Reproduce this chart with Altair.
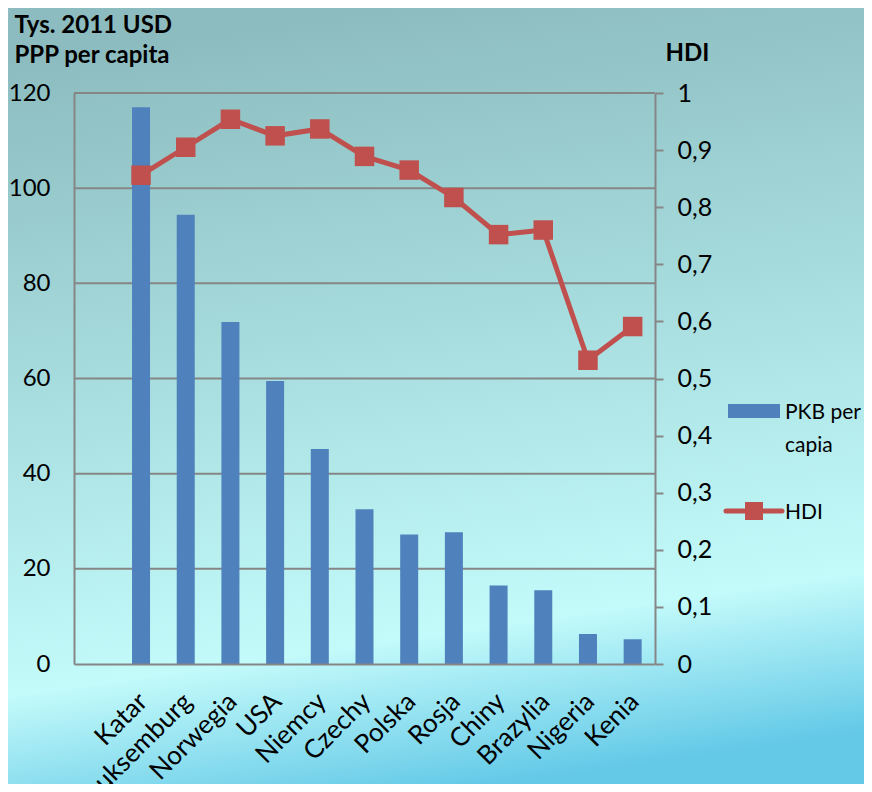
import altair as alt
import pandas as pd

# ---- data ----
countries = ["Katar", "Luksemburg", "Norwegia", "USA", "Niemcy", "Czechy",
             "Polska", "Rosja", "Chiny", "Brazylia", "Nigeria", "Kenia"]
pkb = [117.0, 94.4, 71.9, 59.5, 45.2, 32.5, 27.2, 27.7, 16.5, 15.5, 6.3, 5.2]
hdi = [0.856, 0.905, 0.954, 0.925, 0.937, 0.889, 0.865, 0.817, 0.752, 0.760, 0.532, 0.591]
pkb_ticks = [0, 20, 40, 60, 80, 100, 120]
hdi_ticks = [0, 0.1, 0.2, 0.3, 0.4, 0.5, 0.6, 0.7, 0.8, 0.9, 1.0]
title_left = ["Tys. 2011 USD", "PPP per capita"]
title_right = "HDI"
legend_bar_label = ["PKB per", "capia"]
legend_line_label = "HDI"

FONT = "Lato"
W, H = 581, 571
PAD = {"left": 66, "top": 85, "right": 209, "bottom": 120}
GRAY = "#868686"
BLUE = "#4f81bd"
RED = "#c0504d"

df = pd.DataFrame({"kraj": countries, "pkb": pkb, "hdi": hdi})
grid_df = pd.DataFrame({"g": pkb_ticks[1:]})
one = pd.DataFrame({"a": [0]})

x_scale = alt.Scale(domain=[" "] + countries, paddingInner=0, paddingOuter=0)
x_axis = alt.Axis(
    title=None, labelAngle=-45, labelAlign="right", labelBaseline="top",
    labelPadding=24, labelOffset=-7, ticks=False, domainColor=GRAY, domainWidth=2,
    labelFontSize=26, labelLimit=300, zindex=1)
left_scale = alt.Scale(domain=[0, 120], nice=False)
left_axis = alt.Axis(
    values=pkb_ticks, ticks=False, grid=False, domainColor=GRAY, domainWidth=2,
    labelPadding=24, labelFontSize=24,
    title=title_left, titleAngle=0, titleAlign="left", titleBaseline="alphabetic",
    titleX=-60, titleY=-61, titleLineHeight=30, titleFontSize=24,
    titleFontWeight="bold", zindex=1)

gradient = alt.LinearGradient(
    gradient="linear",
    stops=[
        alt.GradientStop(color="#8cbcbf", offset=0),
        alt.GradientStop(color="#a9dfe0", offset=0.45),
        alt.GradientStop(color="#c3fafa", offset=0.8),
        alt.GradientStop(color="#63c9e7", offset=1),
    ],
    x1=0.42, y1=0, x2=0.58, y2=1,
)

bg = alt.Chart(one).mark_rect(fill=gradient).encode(
    x=alt.value(-PAD["left"]), x2=alt.value(W + PAD["right"]),
    y=alt.value(-PAD["top"]), y2=alt.value(H + PAD["bottom"]),
)

grid = alt.Chart(grid_df).mark_rule(color=GRAY, strokeWidth=2).encode(
    y=alt.Y("g:Q", scale=left_scale, axis=left_axis),
    x=alt.value(0), x2=alt.value(W),
)

bars = alt.Chart(df).mark_bar(color=BLUE, width=18).encode(
    x=alt.X("kraj:N", scale=x_scale, axis=x_axis),
    y=alt.Y("pkb:Q", scale=left_scale, axis=left_axis),
)

left = alt.layer(bg, grid, bars)

line = alt.Chart(df).mark_line(
    color=RED, strokeWidth=5,
    point=alt.OverlayMarkDef(shape="square", size=380, filled=True, color=RED, opacity=1),
).encode(
    x=alt.X("kraj:N", scale=x_scale, axis=x_axis),
    y=alt.Y("hdi:Q", scale=alt.Scale(domain=[0, 1], nice=False), axis=alt.Axis(
        orient="right", values=hdi_ticks,
        labelExpr="replace(format(datum.value, '~g'), '.', ',')",
        tickSize=8, tickColor=GRAY, tickWidth=2, domainColor=GRAY, domainWidth=2,
        labelPadding=14, labelFontSize=25, grid=False,
        title=title_right, titleAngle=0, titleAlign="left", titleBaseline="alphabetic",
        titleX=10, titleY=-33, titleFontSize=24, titleFontWeight="bold", zindex=1)),
)

leg_rect = alt.Chart(one).mark_rect(color=BLUE).encode(
    x=alt.value(654), x2=alt.value(706), y=alt.value(311), y2=alt.value(325))
leg_text1 = alt.Chart(one).mark_text(
    align="left", baseline="alphabetic", fontSize=21, font=FONT, lineHeight=33,
    color="black").encode(x=alt.value(711), y=alt.value(326),
                          text=alt.value(legend_bar_label))
leg_rule = alt.Chart(one).mark_rule(color=RED, strokeWidth=5, strokeCap="round").encode(
    x=alt.value(652), x2=alt.value(708), y=alt.value(418))
leg_sq = alt.Chart(one).mark_point(shape="square", size=324, filled=True,
                                   color=RED, opacity=1).encode(
    x=alt.value(680), y=alt.value(418))
leg_text2 = alt.Chart(one).mark_text(
    align="left", baseline="alphabetic", fontSize=21, font=FONT,
    color="black").encode(x=alt.value(711), y=alt.value(426),
                          text=alt.value(legend_line_label))

chart = alt.layer(left, line, leg_rect, leg_text1, leg_rule, leg_sq, leg_text2).resolve_scale(
    y="independent"
).properties(
    width=W, height=H, padding=PAD,
    autosize=alt.AutoSizeParams(type="none"),
).configure_view(stroke=None).configure_axis(
    labelFont=FONT, titleFont=FONT, labelColor="black", titleColor="black"
)

chart.save("out.html", embed_options={"renderer": "svg", "actions": False})
